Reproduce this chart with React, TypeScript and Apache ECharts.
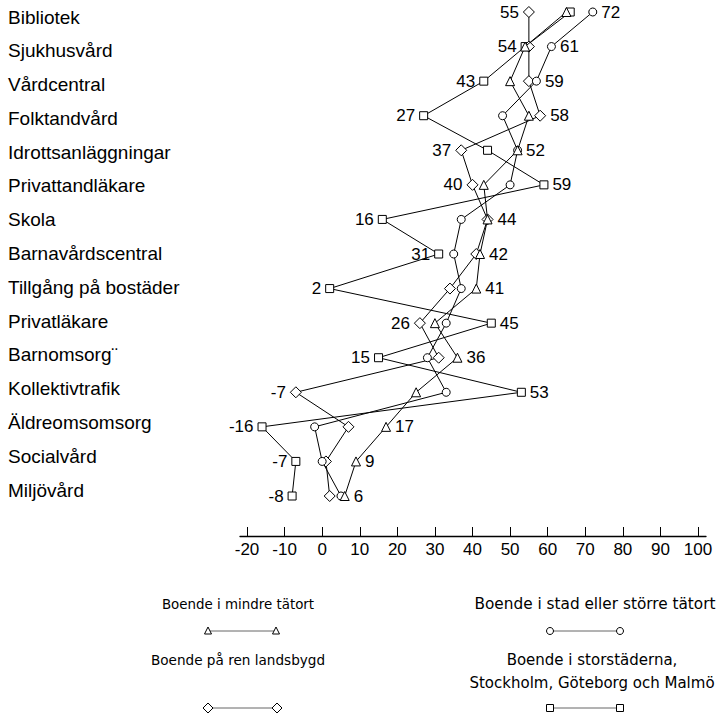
import React, { useEffect, useRef } from "react";
import * as echarts from "echarts";

const categories = [
  "Bibliotek",
  "Sjukhusvård",
  "Vårdcentral",
  "Folktandvård",
  "Idrottsanläggningar",
  "Privattandläkare",
  "Skola",
  "Barnavårdscentral",
  "Tillgång på bostäder",
  "Privatläkare",
  "Barnomsorg¨",
  "Kollektivtrafik",
  "Äldreomsomsorg",
  "Socialvård",
  "Miljövård",
];

// Boende i storstäderna (square)
const storstad = [66, 54, 43, 27, 44, 59, 16, 31, 2, 45, 15, 53, -16, -7, -8];
// Boende på ren landsbygd (diamond)
const landsbygd = [55, 55, 55, 58, 37, 40, 44, 41, 34, 26, 31, -7, 7, 1, 2];
// Boende i stad eller större tätort (circle)
const stad = [72, 61, 57, 48, 52, 50, 37, 35, 37, 33, 28, 33, -2, 0, 5];
// Boende i mindre tätort (triangle)
const mindreTatort = [65, 54, 50, 55, 52, 43, 44, 42, 41, 30, 36, 25, 17, 9, 6];

// printed extreme values per row
const minLabels = [55, 54, 43, 27, 37, 40, 16, 31, 2, 26, 15, -7, -16, -7, -8];
const maxLabels = [72, 61, 59, 58, 52, 59, 44, 42, 41, 45, 36, 53, 17, 9, 6];

const xTicks = { min: -20, max: 100, interval: 10 };

const FONT = "Liberation Sans";
const LFONT = "DejaVu Sans";

const seriesDefs = [
  { name: "Boende i storstäderna, Stockholm, Göteborg och Malmö", data: storstad, symbol: "rect", size: 8 },
  { name: "Boende på ren landsbygd", data: landsbygd, symbol: "diamond", size: 11 },
  { name: "Boende i stad eller större tätort", data: stad, symbol: "circle", size: 8 },
  { name: "Boende i mindre tätort", data: mindreTatort, symbol: "triangle", size: 9 },
];

export default function App() {
  const ref = useRef<HTMLDivElement>(null);
  useEffect(() => {
    if (!ref.current) return;
    const chart = echarts.init(ref.current, null, { renderer: "svg" });

    const minOwner: number[] = [];
    const maxOwner: number[] = [];
    categories.forEach((_, r) => {
      let mi = 0, ma = 0;
      seriesDefs.forEach((s, k) => {
        if (s.data[r] < seriesDefs[mi].data[r]) mi = k;
        if (s.data[r] > seriesDefs[ma].data[r]) ma = k;
      });
      minOwner.push(mi);
      maxOwner.push(ma);
    });

    const series = seriesDefs.map((s, k) => ({
      type: "line",
      name: s.name,
      xAxisIndex: 0,
      yAxisIndex: 0,
      symbol: s.symbol,
      symbolSize: s.size,
      showAllSymbol: true,
      lineStyle: { color: "#000", width: 1 },
      itemStyle: { color: "#fff", borderColor: "#000", borderWidth: 1 },
      z: 2 + k,
      data: s.data.map((v, r) => {
        const isMin = minOwner[r] === k;
        const isMax = maxOwner[r] === k;
        const item: any = { value: [v, r] };
        if (isMin || isMax) {
          item.label = {
            show: true,
            position: isMin ? "left" : "right",
            distance: 4,
            formatter: String(isMin ? minLabels[r] : maxLabels[r]),
            color: "#000",
            fontFamily: FONT,
            fontSize: 17,
          };
        }
        return item;
      }),
    }));

    const legendItems = [
      { text: ["Boende i mindre tätort"], fs: 13.4, tx: 238, ty: 604, sx: [208, 276], sy: 631, sym: "triangle" },
      { text: ["Boende i stad eller större tätort"], fs: 15.3, tx: 595, ty: 604, sx: [550, 620], sy: 631, sym: "circle" },
      { text: ["Boende på ren landsbygd"], fs: 13.6, tx: 238, ty: 660, sx: [208, 277], sy: 708, sym: "diamond" },
      { text: ["Boende i storstäderna,", "Stockholm, Göteborg och Malmö"], fs: 15, tx: 592, ty: 660, sx: [550, 620], sy: 708, sym: "rect" },
    ];

    const markerGraphic = (sym: string, x: number, y: number) => {
      const st = { fill: "#fff", stroke: "#000", lineWidth: 1 };
      if (sym === "triangle")
        return { type: "polygon", shape: { points: [[x, y - 4], [x + 3.5, y + 3], [x - 3.5, y + 3]] }, style: st, z: 10 };
      if (sym === "circle") return { type: "circle", shape: { cx: x, cy: y, r: 3.5 }, style: st, z: 10 };
      if (sym === "diamond")
        return { type: "polygon", shape: { points: [[x, y - 5], [x + 5, y], [x, y + 5], [x - 5, y]] }, style: st, z: 10 };
      return { type: "rect", shape: { x: x - 3.5, y: y - 3.5, width: 7, height: 7 }, style: st, z: 10 };
    };

    const graphic: any[] = [];
    legendItems.forEach((l) => {
      l.text.forEach((t, i) => {
        graphic.push({
          type: "text",
          x: l.tx,
          y: l.ty + i * 23,
          style: { text: t, fontFamily: LFONT, fontSize: l.fs, fill: "#000", align: "center", verticalAlign: "middle" },
        });
      });
      graphic.push({
        type: "line",
        shape: { x1: l.sx[0], y1: l.sy, x2: l.sx[1], y2: l.sy },
        style: { stroke: "#666", lineWidth: 1 },
        z: 5,
      });
      graphic.push(markerGraphic(l.sym, l.sx[0], l.sy));
      graphic.push(markerGraphic(l.sym, l.sx[1], l.sy));
    });

    chart.setOption({
      animation: false,
      backgroundColor: "#fff",
      grid: [
        { left: 247, width: 451, top: 12, height: 484 },
        { left: 8, width: 220, top: 17, height: 473 },
        { left: 240, width: 466, top: 12, height: 484 },
      ],
      xAxis: [
        {
          type: "value",
          gridIndex: 0,
          min: xTicks.min,
          max: xTicks.max,
          interval: xTicks.interval,
          position: "bottom",
          offset: 40,
          axisLine: { show: false, onZero: false },
          axisTick: { show: true, inside: true, length: 9, lineStyle: { color: "#000", width: 1 } },
          axisLabel: { show: true, color: "#000", fontFamily: FONT, fontSize: 17, margin: 5 },
          splitLine: { show: false },
        },
        { type: "value", gridIndex: 1, show: false },
        {
          type: "value",
          gridIndex: 2,
          position: "bottom",
          offset: 40,
          min: 0,
          max: 1,
          axisLine: { show: true, onZero: false, lineStyle: { color: "#000", width: 1.3 } },
          axisTick: { show: false },
          axisLabel: { show: false },
          splitLine: { show: false },
        },
      ],
      yAxis: [
        {
          type: "category",
          gridIndex: 0,
          data: categories,
          inverse: true,
          boundaryGap: false,
          show: false,
        },
        {
          type: "category",
          gridIndex: 1,
          data: categories,
          inverse: true,
          boundaryGap: false,
          position: "left",
          axisLine: { show: false },
          axisTick: { show: false },
          splitLine: { show: false },
          axisLabel: {
            inside: true,
            margin: 0,
            align: "left",
            color: "#000",
            fontFamily: FONT,
            fontSize: 19,
          },
        },
        { type: "value", gridIndex: 2, min: 0, max: 1, show: false },
      ],
      series,
      graphic,
    });
    return () => chart.dispose();
  }, []);
  return (
    <div
      ref={ref}
      style={{ position: "absolute", left: 0, top: 0, width: 723, height: 717, background: "#fff" }}
    />
  );
}
